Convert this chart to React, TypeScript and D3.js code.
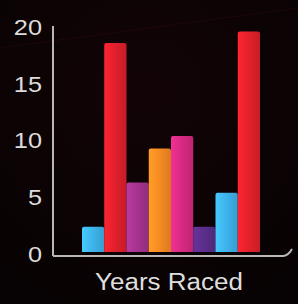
import React from "react";
import * as d3 from "d3";

const categories = ["A", "B", "C", "D", "E", "F", "G", "H"];
const values = [2.4, 18.6, 6.3, 9.3, 10.4, 2.4, 5.4, 19.6];
const colors = ["#3db3ea", "#e0202c", "#a4338f", "#f68b22", "#d62a82", "#5a2e8a", "#3eb2ea", "#e2212b"];
const yTicks = [0, 5, 10, 15, 20];
const xTitle = "Years Raced";

export default function App() {
  const W = 298, H = 304;
  const y = d3.scaleLinear().domain([0, 20]).range([254, 27]);
  const x = d3.scaleBand<string>().domain(categories).range([82, 260]).padding(0);
  const axisY = 256;
  const font = "'Liberation Sans', Arial, sans-serif";
  return (
    <svg width={W} height={H} style={{ position: "fixed", left: 0, top: 0, background: "#0b0304" }}>
      <defs>
        <radialGradient id="bg" cx="0.5" cy="0.3" r="0.8">
          <stop offset="0" stopColor="#120406" />
          <stop offset="1" stopColor="#070203" />
        </radialGradient>
        {colors.map((c, i) => {
          const base = d3.color(c)!;
          return (
            <linearGradient key={i} id={`g${i}`} x1="0" x2="1" y1="0" y2="0">
              <stop offset="0" stopColor={d3.color(c)!.brighter(0.35).formatHex()} />
              <stop offset="0.5" stopColor={base.formatHex()} />
              <stop offset="1" stopColor={d3.color(c)!.darker(0.35).formatHex()} />
            </linearGradient>
          );
        })}
      </defs>
      <rect width={W} height={H} fill="url(#bg)" />
      <path d={`M0,48 L298,8`} stroke="#2a0a0c" strokeWidth={1} opacity={0.6} />
      {categories.map((c, i) => {
        const x0 = x(c)!;
        const w = x.bandwidth();
        const top = y(values[i]);
        const bottom = y(0) - 2;
        const r = 2;
        const d = `M${x0},${bottom} L${x0},${top + r} Q${x0},${top} ${x0 + r},${top} L${x0 + w - r},${top} Q${x0 + w},${top} ${x0 + w},${top + r} L${x0 + w},${bottom} Z`;
        return <path key={c} d={d} fill={`url(#g${i})`} />;
      })}
      <line x1={53} x2={53} y1={26} y2={axisY} stroke="#b8b8b8" strokeWidth={2} />
      <path d={`M53,${axisY} L283,${axisY} Q288,${axisY} 292,${axisY - 7}`} fill="none" stroke="#b8b8b8" strokeWidth={2} />
      {yTicks.map((t) => (
        <text key={t} x={42} y={y(t) + 8} textAnchor="end" fill="#dcdcdc" fontFamily={font} fontSize={22}
          transform={`translate(42,0) scale(1.15,1) translate(-42,0)`}>
          {t}
        </text>
      ))}
      <text x={169} y={290} textAnchor="middle" fill="#dedede" fontFamily={font} fontSize={23}
        transform={`translate(169,0) scale(1.13,1) translate(-169,0)`}>
        {xTitle}
      </text>
    </svg>
  );
}
